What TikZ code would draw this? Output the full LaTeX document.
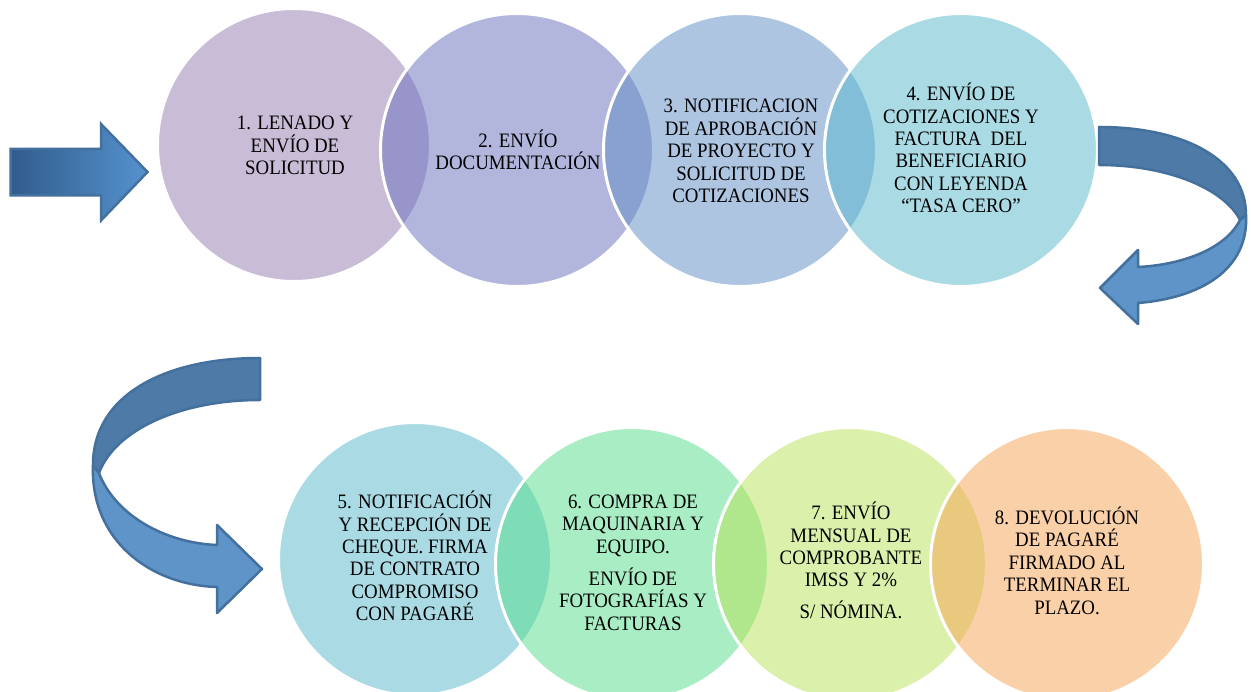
\documentclass[tikz,border=0pt]{standalone}
\usepackage{fontspec}
\newfontfamily\cf{Liberation Serif}[FakeStretch=0.92]
\newcommand\myTop{\rule{0pt}{19.5pt}}
\newcommand\myBot{\rule[-4pt]{0pt}{0pt}}
\definecolor{cA}{RGB}{147,123,177}
\definecolor{cB}{RGB}{103,111,189}
\definecolor{cC}{RGB}{95,141,199}
\definecolor{cD}{RGB}{87,185,205}
\definecolor{cE}{RGB}{87,185,205}
\definecolor{cF}{RGB}{83,221,137}
\definecolor{cG}{RGB}{185,227,87}
\definecolor{cH}{RGB}{247,163,83}
\definecolor{arrowEdge}{RGB}{68,112,158}
\definecolor{arrowDark}{RGB}{77,122,166}
\definecolor{arrowLight}{RGB}{94,148,200}
\definecolor{gradL}{RGB}{48,92,140}
\definecolor{gradR}{RGB}{86,146,206}
\begin{document}
\begin{tikzpicture}[x=1pt,y=-1pt,
  bubble/.style={circle, inner sep=0pt, minimum size=273pt, fill opacity=0.5, draw=white, line width=3pt},
  steptext/.style={align=center, inner sep=0pt, text=black, font=\cf\fontsize{20.5}{22.4}\selectfont},
  arrowline/.style={draw=arrowEdge, line width=2.5pt, line join=round}]
\fill[white] (0,0) rectangle (1251,692);
\useasboundingbox (0,0) rectangle (1251,692);

% entry arrow
\path[arrowline, left color=gradL, right color=gradR, line join=miter]
  (10.5,149) -- (101,149) -- (101,124) -- (147.5,172) -- (101,220.5) -- (101,195.5) -- (10.5,195.5) -- cycle;

% top row
\node[bubble, fill=cA] (c1) at (294,145) {};
\node[steptext] (t1) at (295,144.5) {\myTop 1. LENADO Y\\ENVÍO DE\\SOLICITUD\myBot};
\node[bubble, fill=cB] (c2) at (517,150) {};
\node[steptext] (t2) at (518,150.5) {\myTop 2. ENVÍO\\DOCUMENTACIÓN\myBot};
\node[bubble, fill=cC] (c3) at (740,150) {};
\node[steptext] (t3) at (741,150) {\myTop 3. NOTIFICACION\\DE APROBACIÓN\\DE PROYECTO Y\\SOLICITUD DE\\COTIZACIONES\myBot};
\node[bubble, fill=cD] (c4) at (961,150) {};
\node[steptext] (t4) at (961,149) {\myTop 4. ENVÍO DE\\COTIZACIONES Y\\FACTURA\ \ DEL\\BENEFICIARIO\\CON LEYENDA\\“TASA CERO”\myBot};

% right U-turn arrow
\path[arrowline, fill=arrowLight]
  (1246,215) .. controls (1249,270) and (1200,298) .. (1138,303)
  -- (1138,324) -- (1100,288) -- (1138,250) -- (1138,267)
  .. controls (1180,265) and (1225,250) .. (1240,220) -- cycle;
\path[arrowline, fill=arrowDark]
  (1099,127) .. controls (1185,127) and (1246,160) .. (1246,215)
  -- (1240,220) .. controls (1225,190) and (1170,165) .. (1099,165) -- cycle;

% left U-turn arrow
\path[arrowline, fill=arrowLight]
  (93,465) .. controls (90,540) and (150,585) .. (217,587)
  -- (217,613) -- (262,569) -- (217,525) -- (217,545)
  .. controls (165,543) and (115,515) .. (99,473) -- cycle;
\path[arrowline, fill=arrowDark]
  (260,358) .. controls (165,358) and (93,395) .. (93,465)
  -- (99,473) .. controls (115,430) and (180,400) .. (260,400) -- cycle;

% bottom row
\node[bubble, fill=cE] (c5) at (415,559) {};
\node[steptext] (t5) at (415,557) {\myTop 5. NOTIFICACIÓN\\Y RECEPCIÓN DE\\CHEQUE. FIRMA\\DE CONTRATO\\COMPROMISO\\CON PAGARÉ\myBot};
\node[bubble, fill=cF] (c6) at (632,564) {};
\node[steptext] (t6) at (633,561.5) {\myTop 6. COMPRA DE\\MAQUINARIA Y\\EQUIPO.\\[9.6pt]ENVÍO DE\\FOTOGRAFÍAS Y\\FACTURAS\myBot};
\node[bubble, fill=cG] (c7) at (850,564) {};
\node[steptext] (t7) at (851,561.5) {\myTop 7. ENVÍO\\MENSUAL DE\\COMPROBANTE\\IMSS Y 2\%\\[9.6pt]S/ NÓMINA.\myBot};
\node[bubble, fill=cH] (c8) at (1067,564) {};
\node[steptext] (t8) at (1067,561.5) {\myTop 8. DEVOLUCIÓN\\DE PAGARÉ\\FIRMADO AL\\TERMINAR EL\\PLAZO.\myBot};
\end{tikzpicture}
\end{document}
